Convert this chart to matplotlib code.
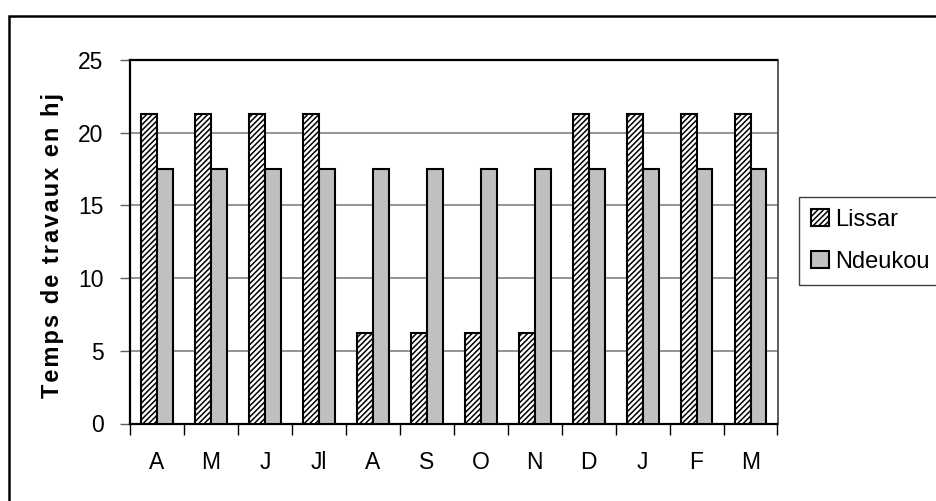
import numpy as np
import matplotlib
matplotlib.use('Agg')
from matplotlib import pyplot as plt
from matplotlib.patches import Rectangle

plt.rcParams['font.family'] = ['Liberation Sans', 'DejaVu Sans']
plt.rcParams['hatch.linewidth'] = 1.1

# Month labels (April -> March)
months = ['A', 'M', 'J', 'Jl', 'A', 'S', 'O', 'N', 'D', 'J', 'F', 'M']
lissar = [21.3, 21.3, 21.3, 21.3, 6.2, 6.2, 6.2, 6.2, 21.3, 21.3, 21.3, 21.3]
ndeukou = [17.5, 17.5, 17.5, 17.5, 17.5, 17.5, 17.5, 17.5, 17.5, 17.5, 17.5, 17.5]
y_ticks = [0, 5, 10, 15, 20, 25]

W, H = 937, 501
fs = 16.5
fig = plt.figure(figsize=(W / 100, H / 100), dpi=100)
ax = fig.add_axes([130 / W, 1 - 423.5 / H, (777.5 - 130) / W, (423.5 - 60) / H])

x = np.arange(len(months))
bw = 0.295
ax.bar(x - bw / 2, lissar, bw, facecolor='white', edgecolor='black',
       hatch='//////', linewidth=1.5, label='Lissar', zorder=3)
ax.bar(x + bw / 2, ndeukou, bw, facecolor='#C0C0C0', edgecolor='black',
       linewidth=1.5, label='Ndeukou', zorder=3)

ax.set_xlim(-0.5, len(months) - 0.5)
ax.set_ylim(0, 25)
ax.set_yticks(y_ticks)
ax.yaxis.grid(True, color='#808080', linewidth=1.2, zorder=0)

# ticks at category boundaries, labels at centres
ax.set_xticks(np.arange(-0.5, len(months), 1.0))
ax.set_xticklabels([])
ax.set_xticks(x, minor=True)
ax.set_xticklabels(months, minor=True, fontsize=fs)
ax.tick_params(axis='x', which='major', length=8, width=1, direction='out')
ax.tick_params(axis='x', which='minor', length=0, pad=20)
ax.tick_params(axis='y', length=7, width=1, color='#606060', labelsize=fs, pad=12)

for s in ax.spines.values():
    s.set_linewidth(1.6)
    s.set_color('black')
ax.spines['right'].set_linewidth(1.2)
ax.spines['right'].set_color('#404040')

# letter-spaced bold axis title, like the original
ylab = '\u200a'.join('Temps de travaux en hj')
ax.set_ylabel(ylab, fontsize=17, fontweight='bold')
ax.yaxis.label.set_va('center')
ax.yaxis.set_label_coords(-(130 - 53) / (777.5 - 130), 0.49)

leg = fig.legend(loc='upper left', bbox_to_anchor=(799 / W, 1 - 197 / H, 0.3, 0.0),
                 mode='expand', fontsize=17, frameon=True, fancybox=False,
                 edgecolor='#404040', framealpha=1, handlelength=0.75,
                 handleheight=0.75, handletextpad=0.3, labelspacing=0.85,
                 borderpad=0.5, borderaxespad=0)
leg.get_frame().set_linewidth(1.0)

# outer chart frame
fig.patches.append(Rectangle((9 / W, -0.1), 2, 1 - 16 / H + 0.1, transform=fig.transFigure,
                             fill=False, edgecolor='black', linewidth=1.8))

plt.savefig('out.png', dpi=100)
